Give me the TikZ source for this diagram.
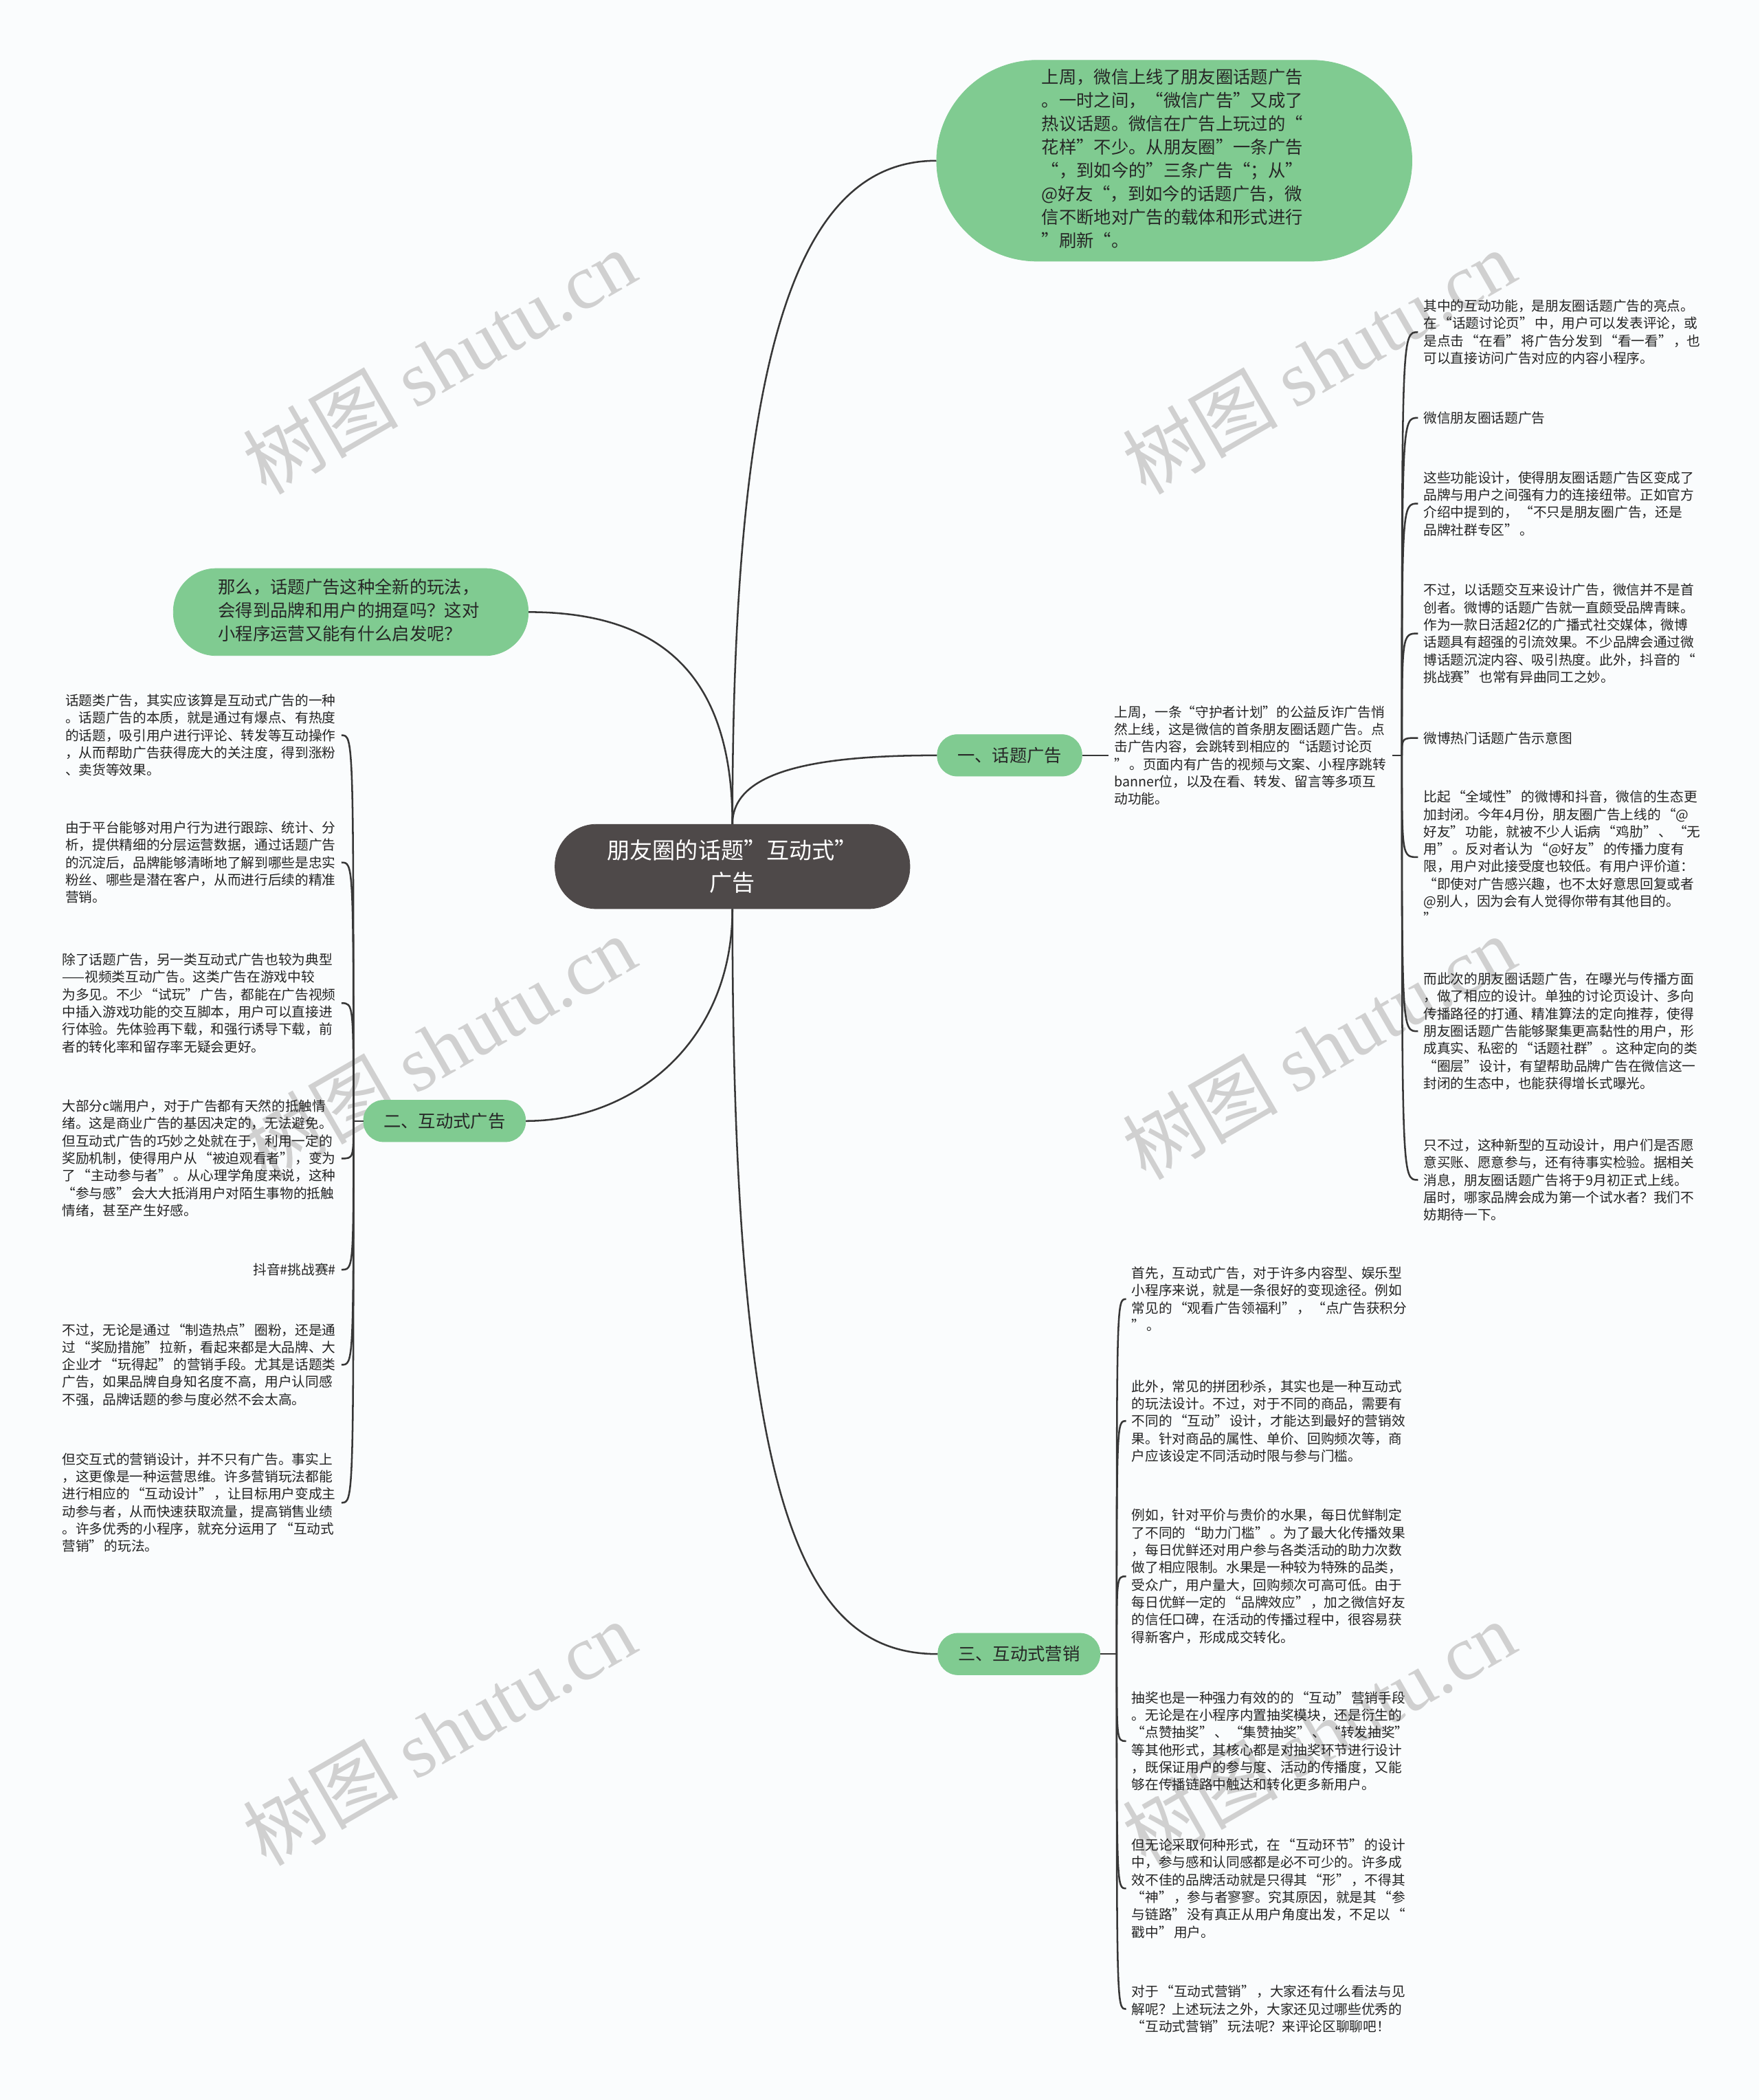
\documentclass[tikz,border=0pt]{standalone}
\usepackage{fontspec}
\setmainfont{Noto Sans CJK SC}
\newfontfamily\wmlatin{Liberation Serif}
\usetikzlibrary{positioning,calc}

\definecolor{nodegreen}{RGB}{128,203,145}
\definecolor{rootgray}{RGB}{78,73,73}
\definecolor{linkgray}{RGB}{55,55,55}
\definecolor{leafink}{RGB}{35,35,35}
\definecolor{wmgray}{RGB}{208,208,208}
\definecolor{paper}{RGB}{250,252,253}

\newcommand{\leaffont}{\fontsize{10.1pt}{13pt}\selectfont\spaceskip=1.2pt\relax}
\newcommand{\topicfont}{\fontsize{13pt}{17.4pt}\selectfont}
\newcommand{\rootfont}{\fontsize{17pt}{24pt}\selectfont}

\begin{document}
\begin{tikzpicture}[
  x=1pt, y=-1pt,
  box/.style={fill=nodegreen, draw=nodegreen, align=center, inner sep=0pt, text=black!85},
  rootbox/.style={box, fill=rootgray, draw=rootgray, text=white, font=\rootfont,
    minimum width=265pt, minimum height=63pt, rounded corners=31pt},
  topicbox/.style={box, font=\topicfont},
  branchbox/.style={box, font=\topicfont, inner xsep=15pt, minimum height=31pt, rounded corners=15pt},
  leaf/.style={align=left, font=\leaffont, text=leafink, inner xsep=4pt, inner ysep=2pt},
  link/.style={draw=linkgray, line width=1.3pt},
  wm/.style={text=wmgray, font=\fontsize{58pt}{58pt}\selectfont, rotate=30, inner sep=0pt}
]

  % page
  \fill[paper] (0,0) rectangle (1314,1568);
  \useasboundingbox (0,0) rectangle (1314,1568);

  % watermarks
  \foreach \wx/\wy [count=\wi] in {328/270, 985/270, 328/782, 985/782, 328/1294, 985/1294}
    \node[wm] (wm\wi) at (\wx,\wy) {树图 {\wmlatin shutu.cn}};

  % Root and first level
  \node[rootbox] (root) at (547,647) {朋友圈的话题”互动式”\\广告};

  \node[topicbox, minimum width=355pt, minimum height=150pt, rounded corners=75pt] (intro) at (877,120) {
    \begin{tabular}{@{}l@{}}
    上周，微信上线了朋友圈话题广告\\
    。一时之间，“微信广告”又成了\\
    热议话题。微信在广告上玩过的“\\
    花样”不少。从朋友圈”一条广告\\
    “，到如今的”三条广告“；从”\\
    @好友“，到如今的话题广告，微\\
    信不断地对广告的载体和形式进行\\
    ”刷新“。
    \end{tabular}
  };

  \node[topicbox, minimum width=265pt, minimum height=65pt, rounded corners=32pt] (ask) at (262,457) {
    \begin{tabular}{@{}l@{}}
    那么，话题广告这种全新的玩法，\\
    会得到品牌和用户的拥趸吗？这对\\
    小程序运营又能有什么启发呢？
    \end{tabular}
  };

  \node[branchbox] (topic) at (754,564) {一、话题广告};
  \node[branchbox] (inter) at (332,837) {二、互动式广告};
  \node[branchbox] (market) at (761,1235) {三、互动式营销};

  % 一、话题广告
  \node[leaf, anchor=west] (topicnote) at (828,564) {
    上周，一条“守护者计划”的公益反诈广告悄\\
    然上线，这是微信的首条朋友圈话题广告。点\\
    击广告内容，会跳转到相应的 “话题讨论页\\
    ” 。页面内有广告的视频与文案、小程序跳转\\
    banner位，以及在看、转发、留言等多项互\\
    动功能。};

  \node[leaf, anchor=west] (r1) at (1059,248) {
    其中的互动功能，是朋友圈话题广告的亮点。\\
    在 “话题讨论页” 中，用户可以发表评论，或\\
    是点击 “在看” 将广告分发到 “看一看” ，也\\
    可以直接访问广告对应的内容小程序。};
  \node[leaf, anchor=west] (r2) at (1059,312) {微信朋友圈话题广告};
  \node[leaf, anchor=west] (r3) at (1059,376) {
    这些功能设计，使得朋友圈话题广告区变成了\\
    品牌与用户之间强有力的连接纽带。正如官方\\
    介绍中提到的， “不只是朋友圈广告，还是\\
    品牌社群专区” 。};
  \node[leaf, anchor=west] (r4) at (1059,473) {
    不过，以话题交互来设计广告，微信并不是首\\
    创者。微博的话题广告就一直颇受品牌青睐。\\
    作为一款日活超2亿的广播式社交媒体，微博\\
    话题具有超强的引流效果。不少品牌会通过微\\
    博话题沉淀内容、吸引热度。此外，抖音的 “\\
    挑战赛” 也常有异曲同工之妙。};
  \node[leaf, anchor=west] (r5) at (1059,551) {微博热门话题广告示意图};
  \node[leaf, anchor=west] (r6) at (1059,640) {
    比起 “全域性” 的微博和抖音，微信的生态更\\
    加封闭。今年4月份，朋友圈广告上线的 “@\\
    好友” 功能，就被不少人诟病 “鸡肋” 、 “无\\
    用” 。反对者认为 “@好友” 的传播力度有\\
    限，用户对此接受度也较低。有用户评价道：\\
    “即使对广告感兴趣，也不太好意思回复或者\\
    @别人，因为会有人觉得你带有其他目的。\\
    ”};
  \node[leaf, anchor=west] (r7) at (1059,770) {
    而此次的朋友圈话题广告，在曝光与传播方面\\
    ，做了相应的设计。单独的讨论页设计、多向\\
    传播路径的打通、精准算法的定向推荐，使得\\
    朋友圈话题广告能够聚集更高黏性的用户，形\\
    成真实、私密的 “话题社群” 。这种定向的类\\
    “圈层” 设计，有望帮助品牌广告在微信这一\\
    封闭的生态中，也能获得增长式曝光。};
  \node[leaf, anchor=west] (r8) at (1059,881) {
    只不过，这种新型的互动设计，用户们是否愿\\
    意买账、愿意参与，还有待事实检验。据相关\\
    消息，朋友圈话题广告将于9月初正式上线。\\
    届时，哪家品牌会成为第一个试水者？我们不\\
    妨期待一下。};

  % 二、互动式广告
  \node[leaf, anchor=east] (l1) at (255,549) {
    话题类广告，其实应该算是互动式广告的一种\\
    。话题广告的本质，就是通过有爆点、有热度\\
    的话题，吸引用户进行评论、转发等互动操作\\
    ，从而帮助广告获得庞大的关注度，得到涨粉\\
    、卖货等效果。};
  \node[leaf, anchor=east] (l2) at (255,644) {
    由于平台能够对用户行为进行跟踪、统计、分\\
    析，提供精细的分层运营数据，通过话题广告\\
    的沉淀后，品牌能够清晰地了解到哪些是忠实\\
    粉丝、哪些是潜在客户，从而进行后续的精准\\
    营销。};
  \node[leaf, anchor=east] (l3) at (255,749) {
    除了话题广告，另一类互动式广告也较为典型\\
    ——视频类互动广告。这类广告在游戏中较\\
    为多见。不少 “试玩” 广告，都能在广告视频\\
    中插入游戏功能的交互脚本，用户可以直接进\\
    行体验。先体验再下载，和强行诱导下载，前\\
    者的转化率和留存率无疑会更好。};
  \node[leaf, anchor=east] (l4) at (255,865) {
    大部分c端用户，对于广告都有天然的抵触情\\
    绪。这是商业广告的基因决定的，无法避免。\\
    但互动式广告的巧妙之处就在于，利用一定的\\
    奖励机制，使得用户从 “被迫观看者” ，变为\\
    了 “主动参与者” 。从心理学角度来说，这种\\
    “参与感” 会大大抵消用户对陌生事物的抵触\\
    情绪，甚至产生好感。};
  \node[leaf, anchor=east] (l5) at (255,948) {抖音\#挑战赛\#};
  \node[leaf, anchor=east] (l6) at (255,1019) {
    不过，无论是通过 “制造热点” 圈粉，还是通\\
    过 “奖励措施” 拉新，看起来都是大品牌、大\\
    企业才 “玩得起” 的营销手段。尤其是话题类\\
    广告，如果品牌自身知名度不高，用户认同感\\
    不强，品牌话题的参与度必然不会太高。};
  \node[leaf, anchor=east] (l7) at (255,1122) {
    但交互式的营销设计，并不只有广告。事实上\\
    ，这更像是一种运营思维。许多营销玩法都能\\
    进行相应的 “互动设计” ，让目标用户变成主\\
    动参与者，从而快速获取流量，提高销售业绩\\
    。许多优秀的小程序，就充分运用了 “互动式\\
    营销” 的玩法。};

  % 三、互动式营销
  \node[leaf, anchor=west] (m1) at (841,970) {
    首先，互动式广告，对于许多内容型、娱乐型\\
    小程序来说，就是一条很好的变现途径。例如\\
    常见的 “观看广告领福利” ， “点广告获积分\\
    ” 。};
  \node[leaf, anchor=west] (m2) at (841,1061) {
    此外，常见的拼团秒杀，其实也是一种互动式\\
    的玩法设计。不过，对于不同的商品，需要有\\
    不同的 “互动” 设计，才能达到最好的营销效\\
    果。针对商品的属性、单价、回购频次等，商\\
    户应该设定不同活动时限与参与门槛。};
  \node[leaf, anchor=west] (m3) at (841,1177) {
    例如，针对平价与贵价的水果，每日优鲜制定\\
    了不同的 “助力门槛” 。为了最大化传播效果\\
    ，每日优鲜还对用户参与各类活动的助力次数\\
    做了相应限制。水果是一种较为特殊的品类，\\
    受众广，用户量大，回购频次可高可低。由于\\
    每日优鲜一定的 “品牌效应” ，加之微信好友\\
    的信任口碑，在活动的传播过程中，很容易获\\
    得新客户，形成成交转化。};
  \node[leaf, anchor=west] (m4) at (841,1300) {
    抽奖也是一种强力有效的的 “互动” 营销手段\\
    。无论是在小程序内置抽奖模块，还是衍生的\\
    “点赞抽奖” 、 “集赞抽奖” 、 “转发抽奖”\\
    等其他形式，其核心都是对抽奖环节进行设计\\
    ，既保证用户的参与度、活动的传播度，又能\\
    够在传播链路中触达和转化更多新用户。};
  \node[leaf, anchor=west] (m5) at (841,1410) {
    但无论采取何种形式，在 “互动环节” 的设计\\
    中，参与感和认同感都是必不可少的。许多成\\
    效不佳的品牌活动就是只得其 “形” ，不得其\\
    “神” ，参与者寥寥。究其原因，就是其 “参\\
    与链路” 没有真正从用户角度出发，不足以 “\\
    戳中” 用户。};
  \node[leaf, anchor=west] (m6) at (841,1500) {
    对于 “互动式营销” ，大家还有什么看法与见\\
    解呢？上述玩法之外，大家还见过哪些优秀的\\
    “互动式营销” 玩法呢？来评论区聊聊吧！};

  % Root connectors
  \draw[link] (root.north) .. controls +(0,-365) and +(-100,0) .. (intro.west);
  \draw[link] (root.north) .. controls +(0,-110) and +(100,0) .. (ask.east);
  \draw[link] (root.north) .. controls +(0,-40) and +(-90,0) .. (topic.west);
  \draw[link] (root.south) .. controls +(0,100) and +(80,0) .. (inter.east);
  \draw[link] (root.south) .. controls +(0,450) and +(-100,0) .. (market.west);

  % Branch trunks
  \coordinate (topicfork) at (1047,564);
  \coordinate (interfork) at (264,837);
  \coordinate (marketfork) at (834,1235);

  \draw[link] (topic.east) -- (topicnote.west);
  \draw[link] (topicnote.east) -- (topicfork);
  \draw[link] (inter.west) -- (interfork);
  \draw[link] (market.east) -- (marketfork);

  \foreach \leafid in {r1,r2,r3,r4,r5,r6,r7,r8}
    \draw[link] (topicfork) .. controls (topicfork |- \leafid.west) .. (\leafid.west);
  \foreach \leafid in {l1,l2,l3,l4,l5,l6,l7}
    \draw[link] (interfork) .. controls (interfork |- \leafid.east) .. (\leafid.east);
  \foreach \leafid in {m1,m2,m3,m4,m5,m6}
    \draw[link] (marketfork) .. controls (marketfork |- \leafid.west) .. (\leafid.west);

\end{tikzpicture}
\end{document}
